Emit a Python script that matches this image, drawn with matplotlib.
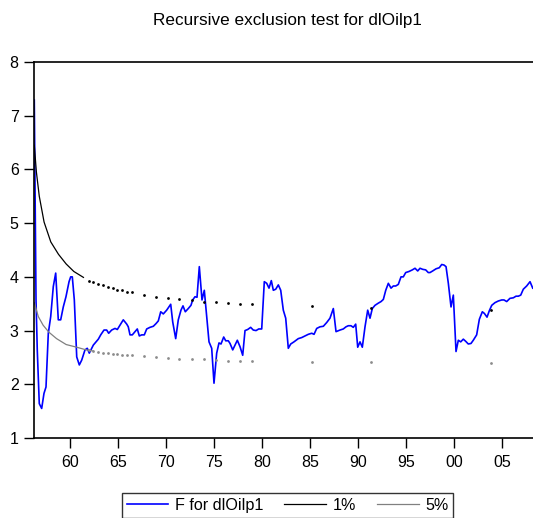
import numpy as np
import matplotlib.pyplot as plt

plt.rcParams['font.family'] = ['Liberation Sans', 'DejaVu Sans']

# recursive F statistic for dlOilp1
f_years = [1956.28, 1956.46, 1956.59, 1956.80, 1957.05, 1957.29, 1957.50, 1957.74, 1957.99,
           1958.26, 1958.51, 1958.78, 1959.03, 1959.30, 1959.58, 1959.90, 1960.07, 1960.24,
           1960.45, 1960.70, 1960.97, 1961.22, 1961.56, 1961.80, 1962.01, 1962.43, 1962.95,
           1963.20, 1963.54, 1963.82, 1964.03, 1964.34, 1964.69, 1964.93, 1965.21, 1965.55,
           1965.91, 1966.07, 1966.25, 1966.49, 1966.77, 1967.01, 1967.22, 1967.47, 1967.74,
           1967.99, 1968.33, 1968.68, 1968.96, 1969.20, 1969.45, 1969.72, 1970.07, 1970.49,
           1970.70, 1971.01, 1971.28, 1971.56, 1971.77, 1972.01, 1972.32, 1972.60, 1972.78,
           1973.02, 1973.23, 1973.47, 1973.75, 1973.99, 1974.24, 1974.48, 1974.76, 1975.00,
           1975.28, 1975.52, 1975.73, 1976.01, 1976.22, 1976.49, 1976.67, 1976.95, 1977.19,
           1977.43, 1977.71, 1977.99, 1978.23, 1978.51, 1978.82, 1979.09, 1979.38, 1979.66,
           1979.97, 1980.24, 1980.49, 1980.73, 1980.97, 1981.18, 1981.43, 1981.70, 1981.95,
           1982.22, 1982.47, 1982.74, 1982.99, 1983.33, 1983.78, 1984.14, 1984.48, 1984.82,
           1985.18, 1985.42, 1985.70, 1986.04, 1986.39, 1986.74, 1987.08, 1987.43, 1987.71,
           1988.13, 1988.47, 1988.75, 1988.99, 1989.27, 1989.51, 1989.76, 1989.97, 1990.21,
           1990.45, 1990.73, 1991.01, 1991.25, 1991.49, 1991.77, 1992.11, 1992.40, 1992.64,
           1992.89, 1993.16, 1993.44, 1993.68, 1993.93, 1994.20, 1994.48, 1994.72, 1994.97,
           1995.31, 1995.66, 1995.94, 1996.22, 1996.46, 1996.74, 1997.05, 1997.32, 1997.50,
           1997.78, 1998.13, 1998.47, 1998.72, 1998.96, 1999.17, 1999.41, 1999.69, 1999.93,
           2000.21, 2000.45, 2000.70, 2000.97, 2001.22, 2001.49, 2001.77, 2002.01, 2002.36,
           2002.64, 2002.95, 2003.16, 2003.44, 2003.68, 2003.93, 2004.27, 2004.61, 2004.97,
           2005.21, 2005.49, 2005.83, 2006.18, 2006.46, 2006.70, 2006.95, 2007.22, 2007.57,
           2007.92, 2008.20]
f_values = [7.29, 3.57, 2.64, 1.64, 1.55, 1.83, 1.95, 2.95, 3.26,
            3.82, 4.07, 3.20, 3.20, 3.44, 3.63, 3.91, 4.00, 4.00,
            3.57, 2.51, 2.36, 2.45, 2.64, 2.67, 2.58, 2.73, 2.84,
            2.92, 3.01, 3.01, 2.95, 3.01, 3.04, 3.02, 3.10, 3.20,
            3.12, 3.07, 2.92, 2.92, 2.98, 3.03, 2.90, 2.92, 2.92,
            3.03, 3.06, 3.08, 3.13, 3.18, 3.35, 3.31, 3.38, 3.49,
            3.16, 2.85, 3.20, 3.38, 3.46, 3.35, 3.41, 3.47, 3.57,
            3.63, 3.62, 4.19, 3.57, 3.75, 3.26, 2.79, 2.67, 2.02,
            2.58, 2.77, 2.75, 2.88, 2.81, 2.81, 2.76, 2.64, 2.73,
            2.82, 2.70, 2.54, 3.00, 3.02, 3.06, 3.01, 3.00, 3.03,
            3.03, 3.91, 3.88, 3.79, 3.93, 3.75, 3.77, 3.85, 3.75,
            3.38, 3.23, 2.67, 2.75, 2.79, 2.85, 2.87, 2.90, 2.93,
            2.95, 2.93, 3.04, 3.07, 3.08, 3.15, 3.23, 3.41, 2.98,
            3.01, 3.03, 3.07, 3.09, 3.09, 3.06, 3.12, 2.69, 2.79,
            2.69, 3.07, 3.38, 3.23, 3.41, 3.47, 3.51, 3.54, 3.58,
            3.75, 3.88, 3.79, 3.83, 3.83, 3.86, 4.00, 4.00, 4.08,
            4.10, 4.13, 4.16, 4.11, 4.16, 4.14, 4.13, 4.08, 4.08,
            4.11, 4.15, 4.17, 4.23, 4.22, 4.19, 3.88, 3.44, 3.66,
            2.61, 2.82, 2.79, 2.84, 2.80, 2.75, 2.76, 2.82, 2.92,
            3.21, 3.35, 3.32, 3.25, 3.37, 3.47, 3.52, 3.55, 3.57,
            3.57, 3.54, 3.60, 3.61, 3.64, 3.64, 3.66, 3.77, 3.83,
            3.91, 3.79]

# critical values, continuous part
crit1_years = [1956.28, 1956.50, 1956.80, 1957.30, 1958.00, 1958.80, 1959.60, 1960.40, 1961.40]
crit1_values = [6.45, 5.95, 5.50, 5.02, 4.65, 4.42, 4.24, 4.10, 3.99]
crit5_years = [1956.28, 1956.70, 1957.20, 1957.80, 1958.60, 1959.60, 1960.70, 1961.70, 1962.40]
crit5_values = [3.52, 3.26, 3.10, 2.97, 2.85, 2.74, 2.69, 2.64, 2.62]

# critical values, shown as dots further on
dot_years = [1961.95, 1962.43, 1962.95, 1963.44, 1963.96, 1964.45, 1964.93, 1965.42, 1965.94,
             1966.43, 1967.68, 1968.93, 1970.18, 1971.39, 1972.68, 1973.93, 1975.18, 1976.43,
             1977.68, 1978.93, 1985.18, 1991.35, 2003.85]
dot1_values = [3.93, 3.90, 3.87, 3.84, 3.81, 3.79, 3.76, 3.75, 3.72,
               3.71, 3.67, 3.63, 3.60, 3.58, 3.56, 3.54, 3.53, 3.51,
               3.50, 3.49, 3.45, 3.42, 3.38]
dot5_values = [2.63, 2.62, 2.61, 2.59, 2.58, 2.57, 2.56, 2.55, 2.54,
               2.54, 2.52, 2.51, 2.49, 2.48, 2.47, 2.47, 2.46, 2.44,
               2.44, 2.43, 2.42, 2.41, 2.40]

tick_years = [1960, 1965, 1970, 1975, 1980, 1985, 1990, 1995, 2000, 2005]

W, H = 533, 518
fig = plt.figure(figsize=(W / 100, H / 100), dpi=100)
ax = fig.add_axes([34 / W, 1 - 438 / H, (540 - 34) / W, (438 - 62) / H])

ax.plot(f_years, f_values, color='blue', lw=1.2, label='F for dlOilp1')
ax.plot(crit1_years, crit1_values, color='black', lw=0.9, label='1%')
ax.plot(crit5_years, crit5_values, color='#808080', lw=0.9, label='5%')
ax.plot(dot_years, dot1_values, 'o', color='black', ms=2.0, mew=0)
ax.plot(dot_years, dot5_values, 'o', color='#8c8c8c', ms=2.0, mew=0)

ax.set_xlim(1956.25, 1960 + (540 - 70) / 9.6)
ax.set_ylim(1, 8)
ax.set_xticks(tick_years)
ax.set_xticklabels(['%02d' % (y % 100) for y in tick_years])
ax.set_yticks(range(1, 9))
ax.tick_params(direction='out', length=7, width=1, labelsize=11.5, colors='black')
ax.tick_params(axis='x', pad=5)
ax.tick_params(axis='y', pad=4)
for side in ['left', 'bottom', 'top']:
    ax.spines[side].set_linewidth(1.2)
ax.spines['right'].set_visible(False)

fig.text(287.5 / W, 1 - 21 / H, 'Recursive exclusion test for dlOilp1',
         ha='center', va='center', fontsize=12.3)

leg = fig.legend(loc='upper center', bbox_to_anchor=(287.5 / W, 1 - 493 / H), ncol=3,
                 fontsize=11.6, frameon=True, fancybox=False, edgecolor='black',
                 handlelength=2.6, handletextpad=0.4, columnspacing=1.3,
                 borderpad=0.3, borderaxespad=0)
leg.get_frame().set_linewidth(1.0)

fig.savefig('out.png', dpi=100)
